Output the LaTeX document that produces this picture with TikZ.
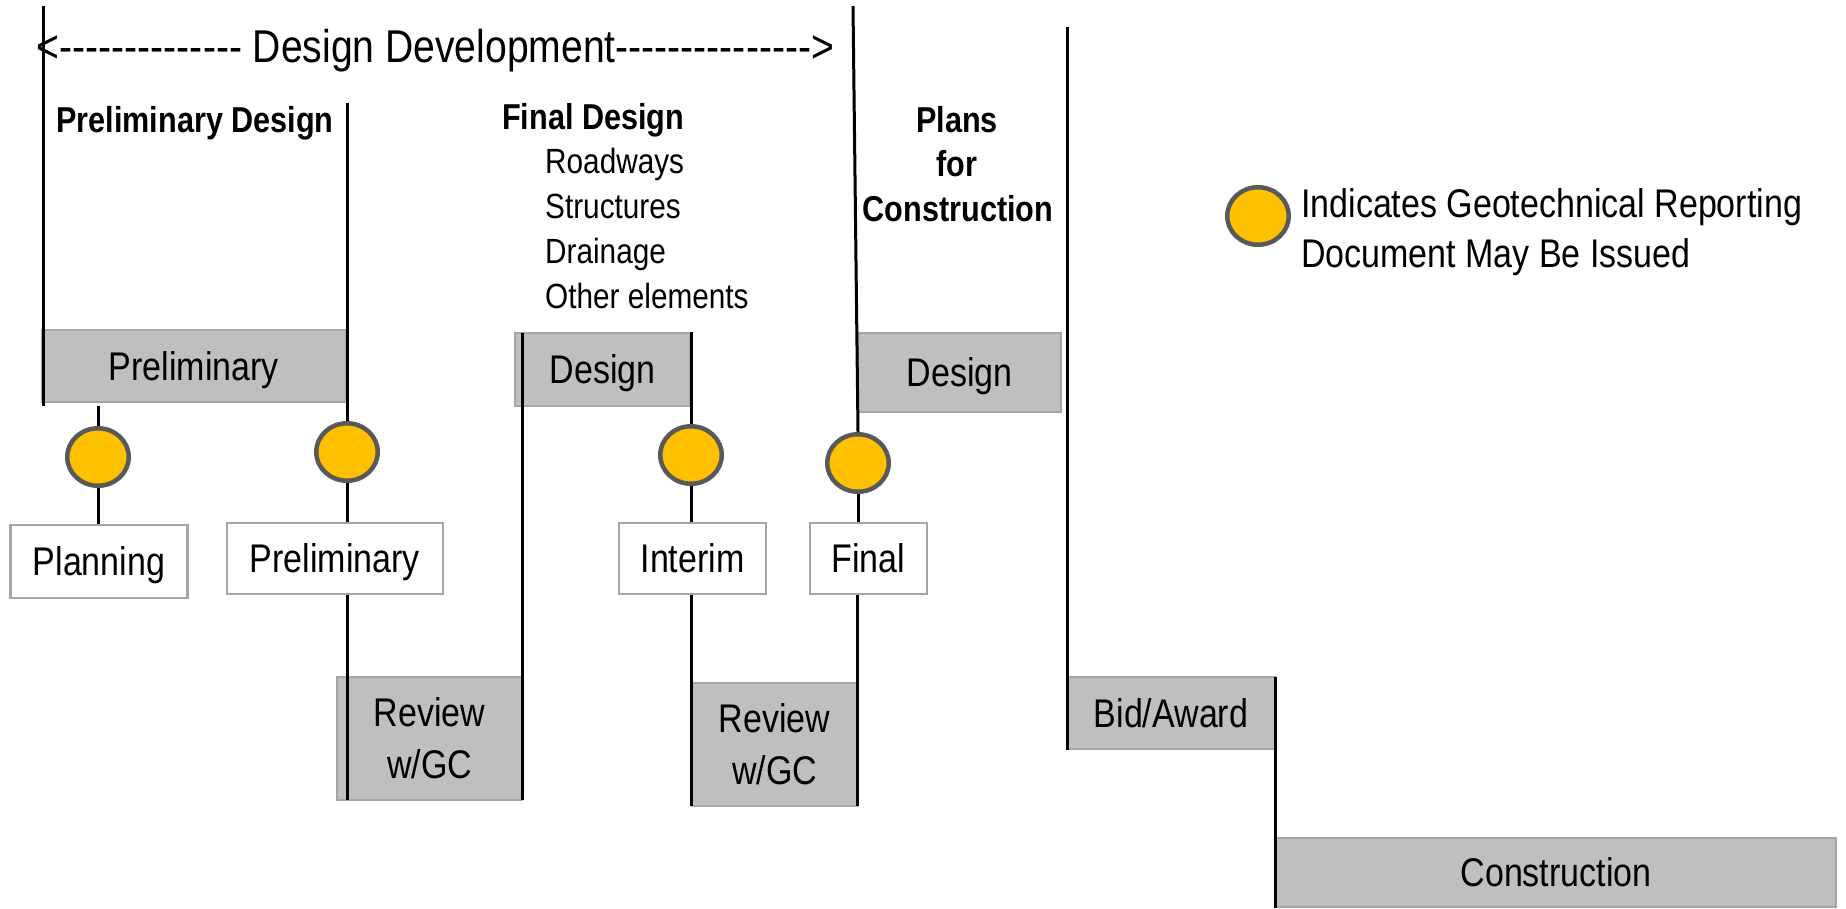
\documentclass[tikz,border=0pt]{standalone}
\usepackage{fontspec}
\setmainfont{Liberation Sans}[FakeStretch=0.85]
\usetikzlibrary{shapes.geometric}
\definecolor{boxgray}{HTML}{BFBFBF}
\definecolor{boxedge}{HTML}{A6A69E}
\definecolor{dotfill}{HTML}{FFC000}
\definecolor{dotedge}{HTML}{595959}
\newcommand\hy{-\kern0pt}
\begin{document}
\begin{tikzpicture}[x=1pt,y=-1pt,
  graybox/.style={draw=boxedge,fill=boxgray,line width=2.5pt,inner sep=0pt,font=\fontsize{40}{52}\selectfont},
  whitebox/.style={graybox,fill=white},
  oneline/.style={text height=28.6pt,text depth=0pt},
  dot/.style={ellipse,draw=dotedge,fill=dotfill,line width=4.5pt,minimum width=61.5pt,minimum height=57.5pt,inner sep=0pt},
  tl/.style={line width=3pt,black},
  hd/.style={font=\fontsize{36}{44}\selectfont\bfseries,inner sep=0pt},
  item/.style={font=\fontsize{35}{42}\selectfont,inner sep=0pt,anchor=base west},
  legtext/.style={font=\fontsize{40}{48}\selectfont,inner sep=0pt,anchor=base west}
]
\useasboundingbox (0,0) rectangle (1846,908);

% gray boxes
\node[graybox,oneline,minimum width=304pt,minimum height=72pt] (gPrel) at (194,366) {Preliminary};
\node[graybox,oneline,minimum width=175pt,minimum height=73pt] (gDes1) at (602.5,369.5) {Design};
\node[graybox,align=center,minimum width=185pt,minimum height=123pt] (gRev1) at (429.5,738.5) {Review\\w/GC};
\node[graybox,align=center,minimum width=165pt,minimum height=123pt] (gRev2) at (774.5,744.5) {Review\\w/GC};
\node[graybox,oneline,minimum width=203pt,minimum height=79pt] (gDes2) at (959.5,372.5) {Design};
\node[graybox,oneline,minimum width=208pt,minimum height=72pt] (gBid) at (1171,713) {Bid/Award};
\node[graybox,oneline,minimum width=560pt,minimum height=69pt] (gCon) at (1556,872.5) {Construction};

% white boxes
\node[whitebox,oneline,minimum width=177pt,minimum height=73pt] (wPlan) at (99,561.5) {Planning};
\node[whitebox,oneline,minimum width=216pt,minimum height=71pt] (wPrel) at (335,558.5) {Preliminary};
\node[whitebox,oneline,minimum width=147pt,minimum height=71pt] (wInt) at (692.5,558.5) {Interim};
\node[whitebox,oneline,minimum width=117pt,minimum height=71pt] (wFin) at (868.5,558.5) {Final};

% dots
\node[dot] (d1) at (98,457) {};
\node[dot] (d2) at (347,452) {};
\node[dot] (d3) at (691,455) {};
\node[dot] (d4) at (858,463) {};
\node[dot] (dLeg) at (1258,216) {};

% coordinates for line ends
\coordinate (l0t) at (43,6);
\coordinate (l0b) at (43,406);
\coordinate (l1t) at (98,406);
\coordinate (l2t) at (347,103);
\coordinate (l2b) at (347,800);
\coordinate (l3t) at (522,333);
\coordinate (l3b) at (522,800);
\coordinate (l4t) at (691,332);
\coordinate (l4b) at (691,806);
\coordinate (l5t) at (853,6);
\coordinate (l5b) at (857,806);
\coordinate (l6t) at (1067,27);
\coordinate (l6b) at (1067,750);
\coordinate (l7t) at (1275,677);
\coordinate (l7b) at (1275,908);

% lines
\draw[tl] (l0t) -- (l0b);
\draw[tl] (l1t) -- (d1.north);
\draw[tl] (d1.south) -- (d1.south |- wPlan.north);
\draw[tl] (l2t) -- (d2.north);
\draw[tl] (d2.south) -- (d2.south |- wPrel.north);
\draw[tl] (d2.south |- wPrel.south) -- (l2b);
\draw[tl] (l3t) -- (l3b);
\draw[tl] (l4t) -- (d3.north);
\draw[tl] (d3.south) -- (d3.south |- wInt.north);
\draw[tl] (d3.south |- wInt.south) -- (l4b);
\draw[tl] (l5t) -- (d4.north);
\draw[tl] (d4.south) -- (d4.south |- wFin.north);
\draw[tl] (l5b |- wFin.south) -- (l5b);
\draw[tl] (l6t) -- (l6b);
\draw[tl] (l7t) -- (l7b);

% texts
\node[anchor=base,font=\fontsize{46}{55}\selectfont,inner sep=0pt] (title) at (435.5,62)
  {<\hy\hy\hy\hy\hy\hy\hy\hy\hy\hy\hy\hy\hy\hy{} Design Development\hy\hy\hy\hy\hy\hy\hy\hy\hy\hy\hy\hy\hy\hy\hy>};
\node[hd,anchor=base] (pdHead) at (195,132) {Preliminary Design};
\node[hd,anchor=base west] (fdHead) at (502,129) {Final Design};
\node[item] (i1) at (545,173) {Roadways};
\node[item] (i2) at (545,218) {Structures};
\node[item] (i3) at (545,263) {Drainage};
\node[item] (i4) at (545,308) {Other elements};
\node[hd,anchor=base] (pc1) at (957,132) {Plans};
\node[hd,anchor=base] (pc2) at (957,176) {for};
\node[hd,anchor=base] (pc3) at (958,221) {Construction};
\node[legtext] (leg1) at (1301,217) {Indicates Geotechnical Reporting};
\node[legtext] (leg2) at (1301,267) {Document May Be Issued};
\end{tikzpicture}
\end{document}
